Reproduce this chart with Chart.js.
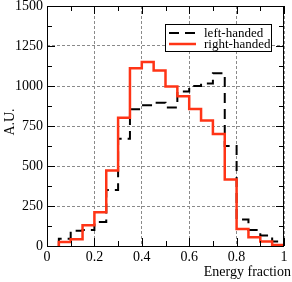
<!DOCTYPE html>
<html lang="en">
<head>
<meta charset="UTF-8" />
<title>Energy fraction</title>
<script src="https://cdn.jsdelivr.net/npm/chart.js"></script>
<style>
  html, body { margin: 0; padding: 0; background: #fff; }
  #wrap { width: 292px; height: 282px; position: relative; }
</style>
</head>
<body>
<div id="wrap"><canvas id="chart"></canvas></div>
<script>
  // histogram bins (edges) and counts per bin
  const binEdges = [0.05, 0.10, 0.15, 0.20, 0.25, 0.30, 0.35, 0.40, 0.45, 0.50,
                    0.55, 0.60, 0.65, 0.70, 0.75, 0.80, 0.85, 0.90, 0.95, 1.00];
  const leftHanded  = [45, 95, 100, 150, 350, 670, 855, 880, 895, 865,
                       965, 1000, 1015, 1080, 625, 165, 100, 65, 28];
  const rightHanded = [25, 42, 130, 211, 472, 801, 1111, 1150, 1097, 997,
                       936, 857, 784, 700, 416, 107, 55, 28, 7];
  const seriesNames = ['left-handed', 'right-handed'];
  const xTickLabels = ['0', '0.2', '0.4', '0.6', '0.8', '1'];
  const xTitle = 'Energy fraction';
  const yTitle = 'A.U.';

  const RED = '#ff3416';
  const SERIF = '"Liberation Serif", "DejaVu Serif", serif';

  // turn bin counts into a step outline (horizontal first, then vertical)
  function outline(values) {
    const last = binEdges[binEdges.length - 1];
    const pts = [{ x: binEdges[0], y: 0 }];
    values.forEach((v, i) => pts.push({ x: binEdges[i], y: v }));
    pts.push({ x: last, y: values[values.length - 1] });
    pts.push({ x: last, y: 0 });
    return pts;
  }

  const frame = {
    id: 'frame',
    afterDraw(chart) {
      const { ctx, chartArea: a, scales: { x, y } } = chart;
      ctx.save();
      ctx.strokeStyle = '#000';
      ctx.lineWidth = 1;
      ctx.setLineDash([]);
      ctx.strokeRect(a.left + 0.5, a.top + 0.5, a.right - a.left - 1, a.bottom - a.top);

      // inward ticks on all four sides
      ctx.beginPath();
      for (let k = 0; k <= 10; k++) {
        const px = Math.round(x.getPixelForValue(k / 10)) + 0.5;
        const len = k % 2 === 0 ? 8 : 5;
        ctx.moveTo(px, a.bottom); ctx.lineTo(px, a.bottom - len);
        ctx.moveTo(px, a.top); ctx.lineTo(px, a.top + len);
      }
      for (let k = 0; k <= 12; k++) {
        const py = Math.round(y.getPixelForValue(k * 125)) + 0.5;
        const len = k % 2 === 0 ? 8 : 5;
        ctx.moveTo(a.left, py); ctx.lineTo(a.left + len, py);
        ctx.moveTo(a.right, py); ctx.lineTo(a.right - len, py);
      }
      ctx.stroke();

      // axis titles
      ctx.fillStyle = '#000';
      ctx.font = '14px ' + SERIF;
      ctx.textAlign = 'right';
      ctx.textBaseline = 'alphabetic';
      ctx.fillText(xTitle, 291, 276);
      ctx.save();
      ctx.translate(10, (a.top + a.bottom) / 2 - 4);
      ctx.rotate(-Math.PI / 2);
      ctx.textAlign = 'center';
      ctx.textBaseline = 'middle';
      ctx.fillText(yTitle, 0, 0);
      ctx.restore();

      // legend box
      ctx.fillStyle = '#fff';
      ctx.fillRect(165.5, 24.5, 106, 27);
      ctx.strokeRect(165.5, 24.5, 106, 27);
      chart.data.datasets.forEach((ds, i) => {
        const ly = 33 + i * 11;
        ctx.strokeStyle = ds.borderColor;
        ctx.lineWidth = ds.borderWidth;
        ctx.setLineDash(ds.borderDash || []);
        ctx.beginPath();
        ctx.moveTo(169, ly); ctx.lineTo(196, ly);
        ctx.stroke();
        ctx.setLineDash([]);
        ctx.fillStyle = '#000';
        ctx.font = '13px ' + SERIF;
        ctx.textAlign = 'left';
        ctx.textBaseline = 'middle';
        ctx.fillText(ds.label, 204, ly + 0.5);
      });
      ctx.restore();
    }
  };

  const gridStyle = { color: '#8a8a8a', lineWidth: 1, drawTicks: false };

  new Chart(document.getElementById('chart'), {
    type: 'line',
    data: {
      datasets: [
        {
          label: seriesNames[0],
          data: outline(leftHanded),
          borderColor: '#000',
          borderWidth: 2,
          borderDash: [10, 6],
          stepped: 'before',
          pointRadius: 0,
          fill: false,
          order: 1
        },
        {
          label: seriesNames[1],
          data: outline(rightHanded),
          borderColor: RED,
          borderWidth: 2.5,
          stepped: 'before',
          pointRadius: 0,
          fill: false,
          order: 0
        }
      ]
    },
    options: {
      responsive: true,
      maintainAspectRatio: false,
      animation: false,
      events: [],
      layout: { padding: { top: 6, right: 8, left: 0, bottom: 0 } },
      plugins: { legend: { display: false }, tooltip: { enabled: false } },
      scales: {
        x: {
          type: 'linear',
          min: 0,
          max: 1,
          grid: gridStyle,
          border: { display: false, dash: [3, 2] },
          ticks: {
            stepSize: 0.2,
            autoSkip: false,
            maxRotation: 0,
            padding: 3,
            color: '#000',
            font: { family: SERIF, size: 14 },
            callback: (v, i) => xTickLabels[i]
          },
          afterFit: s => { s.height = 36; s.paddingLeft = 0; s.paddingRight = 0; }
        },
        y: {
          min: 0,
          max: 1500,
          grid: gridStyle,
          border: { display: false, dash: [3, 2] },
          ticks: {
            stepSize: 250,
            padding: 4,
            color: '#000',
            font: { family: SERIF, size: 14 },
            callback: v => String(v)
          },
          afterFit: s => { s.width = 47; s.paddingTop = 0; s.paddingBottom = 0; }
        }
      }
    },
    plugins: [frame]
  });
</script>
</body>
</html>
